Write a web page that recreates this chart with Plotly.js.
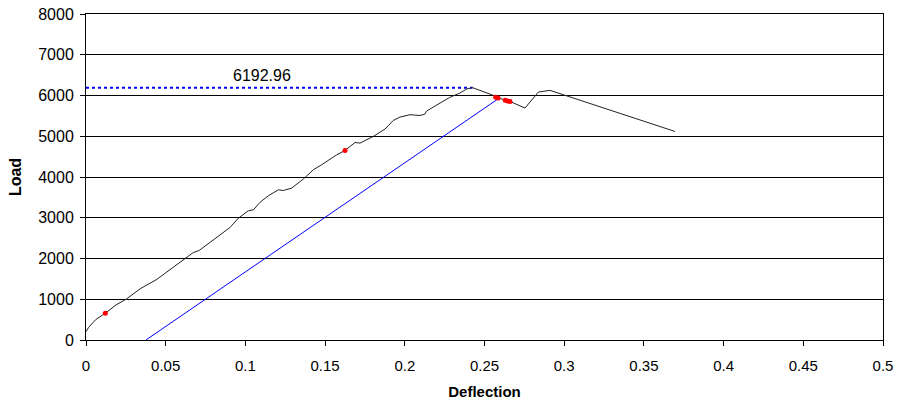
<!DOCTYPE html>
<html>
<head>
<meta charset="utf-8">
<script src="https://cdn.plot.ly/plotly-3.0.1.min.js"></script>
<style>html,body{margin:0;padding:0;background:#fff;}#chart{width:901px;height:408px;}</style>
</head>
<body>
<div id="chart"></div>
<script>
// Load-deflection curve
const deflection = [0, 0.0017, 0.0063, 0.0121, 0.0188, 0.0251, 0.0345, 0.0439, 0.0502, 0.0565, 0.0627, 0.0673, 0.0711, 0.0778, 0.0851, 0.0903, 0.0956, 0.1018, 0.105, 0.1092, 0.1144, 0.1207, 0.1238, 0.129, 0.1363, 0.1426, 0.1478, 0.1531, 0.1573, 0.1625, 0.1688, 0.1719, 0.1802, 0.1876, 0.1928, 0.197, 0.2033, 0.2095, 0.2125, 0.2137, 0.222, 0.228, 0.2346, 0.2388, 0.2425, 0.2493, 0.2555, 0.2566, 0.266, 0.2754, 0.2838, 0.2911, 0.3036, 0.3267, 0.3695];
const load = [204, 312, 508, 656, 860, 1000, 1270, 1474, 1654, 1843, 2007, 2146, 2200, 2391, 2621, 2760, 2990, 3170, 3194, 3380, 3540, 3686, 3669, 3727, 3948, 4177, 4300, 4439, 4545, 4651, 4848, 4832, 4995, 5177, 5388, 5471, 5528, 5510, 5540, 5620, 5815, 5950, 6060, 6160, 6192.96, 6102, 6003, 5962, 5854, 5692, 6085, 6126, 5968, 5668, 5118];

// Red marked points
const markX = [0.0121, 0.1625, 0.257, 0.2585, 0.263, 0.2645, 0.266];
const markY = [656, 4651, 5960, 5940, 5885, 5868, 5854];

// Blue offset line
const offsetX = [0.0376, 0.2592];
const offsetY = [0, 5935];

// Peak
const peakX = 0.2425;
const peakLoad = 6192.96;

const xTicks = [0, 0.05, 0.1, 0.15, 0.2, 0.25, 0.3, 0.35, 0.4, 0.45, 0.5];
const xTickText = ['0', '0.05', '0.1', '0.15', '0.2', '0.25', '0.3', '0.35', '0.4', '0.45', '0.5'];
const yTicks = [0, 1000, 2000, 3000, 4000, 5000, 6000, 7000, 8000];

const traces = [
  {x: [0, peakX], y: [peakLoad, peakLoad], mode: 'lines', line: {color: '#0000ff', width: 2, dash: 'dot'}, hoverinfo: 'skip'},
  {x: offsetX, y: offsetY, mode: 'lines', line: {color: '#0000ff', width: 1}},
  {x: deflection, y: load, mode: 'lines', line: {color: '#222222', width: 1}},
  {x: markX, y: markY, mode: 'markers', marker: {color: '#ff0000', size: 5}}
];

const font = {family: 'Arial, "Liberation Sans", sans-serif', size: 15, color: '#000'};

const layout = {
  width: 901, height: 408,
  margin: {l: 86, r: 18, t: 14, b: 68},
  paper_bgcolor: '#fff', plot_bgcolor: '#fff',
  showlegend: false,
  font: font,
  xaxis: {
    range: [0, 0.5], tickvals: xTicks, ticktext: xTickText,
    showgrid: false, zeroline: false,
    showline: true, linecolor: '#000', linewidth: 1, mirror: true,
    ticks: 'outside', ticklen: 5, tickcolor: '#000', ticklabelstandoff: 7,
    tickfont: {family: font.family, size: 15, color: '#000'},
    title: {text: 'Deflection', font: {family: font.family, size: 15, color: '#000', weight: 'bold'}, standoff: 13}
  },
  yaxis: {
    range: [0, 8000], tickvals: yTicks,
    showgrid: true, gridcolor: '#000', gridwidth: 1, zeroline: false,
    showline: true, linecolor: '#000', linewidth: 1, mirror: true,
    ticks: 'outside', ticklen: 5, tickcolor: '#000', ticklabelstandoff: 3,
    tickfont: {family: font.family, size: 16, color: '#000'},
    title: {text: 'Load', font: {family: font.family, size: 16, color: '#000', weight: 'bold'}, standoff: 12}
  },
  annotations: [{
    x: 0.1107, y: 6500, xref: 'x', yref: 'y',
    text: peakLoad.toFixed(2), showarrow: false,
    font: {family: font.family, size: 16, color: '#000'}
  }]
};

Plotly.newPlot('chart', traces, layout, {staticPlot: true, displayModeBar: false});
</script>
</body>
</html>
